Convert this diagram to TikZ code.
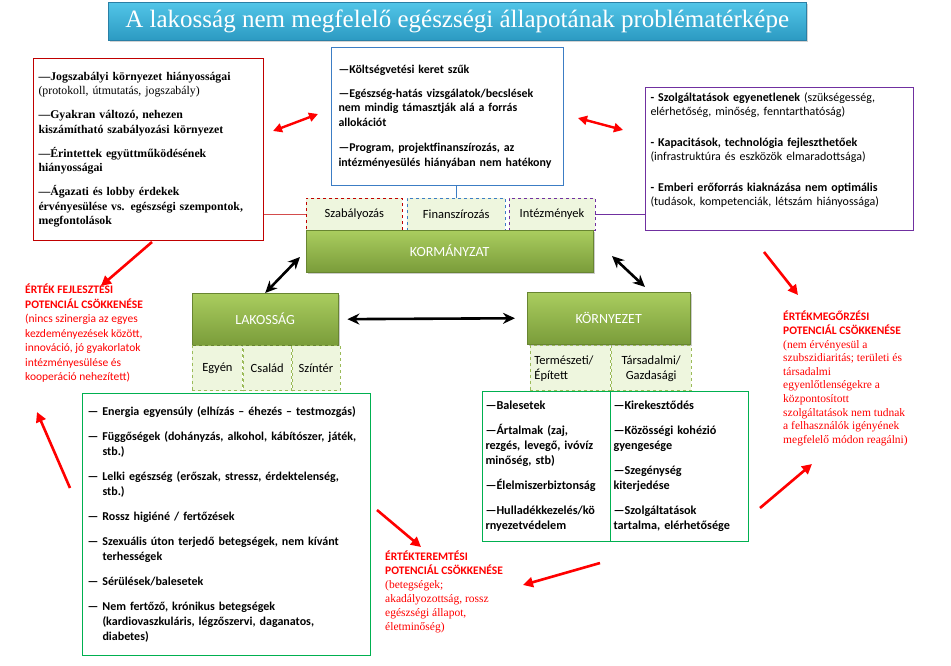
\documentclass[tikz,border=0pt]{standalone}
\usepackage{fontspec}
\setmainfont{Liberation Serif}
\newfontfamily\fntCal{Carlito}
\usepackage{xcolor}
\definecolor{cRuleRed}{HTML}{C00000}
\definecolor{cArrowRed}{HTML}{FF0000}
\definecolor{cFundBlue}{HTML}{3C7DC4}
\definecolor{cServPurple}{HTML}{7030A0}
\definecolor{cListGreen}{HTML}{00B050}
\definecolor{cLeafTop}{HTML}{AACD5F}
\definecolor{cLeafBot}{HTML}{7A9C3A}
\definecolor{cLeafPale}{HTML}{EEF6DE}
\definecolor{cLeafDash}{HTML}{9BBB59}
\definecolor{cSkyTop}{HTML}{52C5E8}
\definecolor{cSkyBot}{HTML}{2C9AC2}
\definecolor{cSkyEdge}{HTML}{2A7FA5}
\usetikzlibrary{positioning,arrows.meta,shadows}
\newcommand{\listindent}{\hspace*{15pt}}
\tikzset{
  node-box/.style={line width=1pt,align=left,inner xsep=6pt,inner ysep=4pt,anchor=north west},
  node-title/.style={anchor=north west,minimum width=698pt,minimum height=38pt,
    top color=cSkyTop,bottom color=cSkyBot,draw=cSkyEdge,text=white,
    font=\fontsize{25}{28}\selectfont,
    drop shadow={shadow xshift=2pt,shadow yshift=-2pt,opacity=0.35}},
  node-leaf/.style={anchor=north west,top color=cLeafTop,bottom color=cLeafBot,
    draw=cLeafBot!85!black,text=white,font=\fntCal\fontsize{14}{16}\selectfont,
    drop shadow={shadow xshift=1.5pt,shadow yshift=-2pt,opacity=0.4}},
  node-tab/.style={fill=cLeafPale,dashed,line width=0.8pt,draw=cLeafDash,
    align=center,inner sep=1pt,font=\fntCal\fontsize{12.5}{15}\selectfont},
  % jegyzetek (piros szöveg)
  note-red/.style={text=cArrowRed,anchor=north west,inner sep=0pt,align=left},
  line-link/.style={line width=0.8pt},
  arrow-red/.style={-{Triangle[length=10pt,width=10pt]},line width=2.6pt,draw=cArrowRed},
  arrow-red-dual/.style={{Triangle[length=9pt,width=9pt]}-{Triangle[length=9pt,width=9pt]},
    line width=2.4pt,draw=cArrowRed},
  arrow-dual/.style={{Stealth[length=12pt,width=11pt]}-{Stealth[length=12pt,width=11pt]},
    line width=2.6pt,draw=black},
}

\begin{document}
\begin{tikzpicture}[x=1pt,y=-1pt]
  \useasboundingbox (0,0) rectangle (951,666);
  \node[node-title] (title) at (108,2) {A lakosság nem megfelelő egészségi állapotának problématérképe};

  % felső dobozok
  \node[node-box,draw=cRuleRed,minimum width=230pt,minimum height=182pt,text width=220pt,
    inner xsep=5pt,font=\bfseries\fontsize{11.8}{14.5}\selectfont] (rule-list) at (33,58)
    {\textemdash Jogszabályi környezet hiányosságai\\
     {\mdseries (protokoll, útmutatás, jogszabály)}\\[9.5pt]
     \textemdash Gyakran változó, nehezen\\
     kiszámítható szabályozási környezet\\[9.5pt]
     \textemdash Érintettek együttműködésének\\
     hiányosságai\\[9.5pt]
     \textemdash Ágazati és lobby érdekek\\
     érvényesülése vs. egészségi szempontok,\\
     megfontolások};
  \node[node-box,draw=cFundBlue,minimum width=232pt,minimum height=138pt,text width=218pt,
    inner xsep=7pt,font=\fntCal\bfseries\fontsize{11.9}{14.5}\selectfont] (fund-list) at (331,47)
    {\textemdash Költségvetési keret szűk\\[9.5pt]
     \textemdash Egészség-hatás vizsgálatok/becslések\\
     nem mindig támasztják alá a forrás\\
     allokációt\\[11pt]
     \textemdash Program, projektfinanszírozás, az\\
     intézményesülés hiányában nem hatékony};
  \node[node-box,draw=cServPurple,minimum width=268pt,minimum height=143pt,text width=258pt,
    inner xsep=5pt,font=\fntCal\fontsize{12}{13.5}\selectfont] (serv-list) at (645,87)
    {\textbf{- Szolgáltatások egyenetlenek} (szükségesség,\\
     elérhetőség, minőség, fenntarthatóság)\\[18pt]
     \textbf{- Kapacitások, technológia fejleszthetőek}\\
     (infrastruktúra és eszközök elmaradottsága)\\[18pt]
     \textbf{- Emberi erőforrás kiaknázása nem optimális}\\
     (tudások, kompetenciák, létszám hiányossága)\\[6pt]\mbox{}};

  % KORMÁNYZAT
  \node[node-tab,draw=cRuleRed,minimum width=96pt,minimum height=32pt,anchor=north west] (szab) at (306,198) {Szabályozás};
  \node[node-tab,draw=cFundBlue,minimum width=98pt,minimum height=32pt,right=4pt of szab] (fin) {Finanszírozás};
  \node[node-tab,draw=cServPurple,minimum width=86pt,minimum height=32pt,right=3pt of fin] (inst) {Intézmények};
  \node[node-leaf,minimum width=287pt,minimum height=42pt] (gov) at (306,230) {KORMÁNYZAT};

  \draw[line-link,draw=cRuleRed!70] (szab.west) -- (rule-list.east |- szab.west);
  \draw[line-link,draw=cFundBlue] (fin.north) -- (fin.north |- fund-list.south);
  \draw[line-link,draw=cServPurple] (inst.east) -- (inst.east -| serv-list.west);

  % LAKOSSÁG
  \node[node-leaf,minimum width=146pt,minimum height=52pt] (lak) at (192,293) {LAKOSSÁG};
  \node[node-tab,minimum width=50pt,minimum height=45pt,below right=0pt and 0pt of lak.south west] (egyen) {Egyén};
  \node[node-tab,minimum width=48pt,minimum height=45pt,right=0pt of egyen] (csalad) {Család};
  \node[node-tab,minimum width=48pt,minimum height=45pt,right=0pt of csalad] (szinter) {Színtér};

  % KÖRNYEZET
  \node[node-leaf,minimum width=163pt,minimum height=52pt] (env) at (527,292) {KÖRNYEZET};
  \node[node-tab,minimum width=80pt,minimum height=45pt,text width=72pt,inner xsep=4pt,align=left,
    below right=1pt and 3pt of env.south west] (env-nat) {Természeti/\\Épített};
  \node[node-tab,minimum width=80pt,minimum height=45pt,right=0pt of env-nat] (env-soc) {Társadalmi/\\Gazdasági};

  % alsó listák
  \node[node-box,draw=cListGreen,minimum width=288pt,minimum height=262pt,text width=278pt,
    inner xsep=5pt,font=\fntCal\bfseries\fontsize{12}{15}\selectfont] (pop-list) at (82,393)
    {\textemdash\ Energia egyensúly (elhízás – éhezés – testmozgás)\\[10pt]
     \textemdash\ Függőségek (dohányzás, alkohol, kábítószer, játék,\\
     \listindent stb.)\\[10pt]
     \textemdash\ Lelki egészség (erőszak, stressz, érdektelenség,\\
     \listindent stb.)\\[10pt]
     \textemdash\ Rossz higiéné / fertőzések\\[10pt]
     \textemdash\ Szexuális úton terjedő betegségek, nem kívánt\\
     \listindent terhességek\\[10pt]
     \textemdash\ Sérülések/balesetek\\[10pt]
     \textemdash\ Nem fertőző, krónikus betegségek\\
     \listindent (kardiovaszkuláris, légzőszervi, daganatos,\\
     \listindent diabetes)};
  \node[node-box,draw=cListGreen,minimum width=128pt,minimum height=150pt,text width=122pt,
    inner xsep=3pt,font=\fntCal\bfseries\fontsize{12.2}{15}\selectfont] (env-nat-list) at (482,391)
    {\textemdash Balesetek\\[10pt]
     \textemdash Ártalmak (zaj,\\
     rezgés, levegő, ivóvíz\\
     minőség, stb)\\[10pt]
     \textemdash Élelmiszerbiztonság\\[10pt]
     \textemdash Hulladékkezelés/kö\\
     rnyezetvédelem};
  \node[node-box,draw=cListGreen,minimum width=138pt,minimum height=150pt,text width=132pt,
    inner xsep=3pt,font=\fntCal\bfseries\fontsize{12.2}{15}\selectfont] (env-soc-list) at (610,391)
    {\textemdash Kirekesztődés\\[10pt]
     \textemdash Közösségi kohézió\\
     gyengesége\\[10pt]
     \textemdash Szegénység\\
     kiterjedése\\[10pt]
     \textemdash Szolgáltatások\\
     tartalma, elérhetősége};

  % piros jegyzetek
  \node[note-red,font=\fntCal\fontsize{11.5}{14.5}\selectfont] (note-dev) at (25,284)
    {\textbf{ÉRTÉK FEJLESZTÉSI}\\\textbf{POTENCIÁL CSÖKKENÉSE}\\(nincs szinergia az egyes\\
     kezdeményezések között,\\innováció, jó gyakorlatok\\intézményesülése és\\kooperáció nehezített)};
  \node[note-red,font=\fontsize{11.5}{13.6}\selectfont] (note-keep) at (783,311)
    {{\fntCal\bfseries ÉRTÉKMEGŐRZÉSI}\\{\fntCal\bfseries POTENCIÁL CSÖKKENÉSE}\\(nem érvényesül a\\
     szubszidiaritás; területi és\\társadalmi\\egyenlőtlenségekre a\\központosított\\
     szolgáltatások nem tudnak\\a felhasználók igényének\\megfelelő módon reagálni)};
  \node[note-red,font=\fontsize{11.5}{14}\selectfont] (note-create) at (385,551)
    {{\fntCal\bfseries ÉRTÉKTEREMTÉSI}\\{\fntCal\bfseries POTENCIÁL CSÖKKENÉSE}\\(betegségek;\\
     akadályozottság, rossz\\egészségi állapot,\\életminőség)};

  % nyilak
  \coordinate (rd-a) at (273,131);  \coordinate (rd-b) at (318,114);
  \coordinate (rs-a) at (578,118);  \coordinate (rs-b) at (623,130);
  \coordinate (gl-a) at (300,257);  \coordinate (ge-a) at (612,256);
  \coordinate (ge-b) at (645,287);
  \coordinate (dev-a) at (152,242); \coordinate (dev-b) at (101,286);
  \coordinate (up-a) at (70,488);   \coordinate (up-b) at (37,412);
  \coordinate (cre-a) at (377,510); \coordinate (cre-b) at (421,547);
  \coordinate (cr2-a) at (600,563); \coordinate (cr2-b) at (523,585);
  \coordinate (kp-a) at (760,508);  \coordinate (kp-b) at (812,464);
  \coordinate (kp2-a) at (764,252); \coordinate (kp2-b) at (798,295);

  \draw[arrow-red-dual] (rd-a) -- (rd-b);
  \draw[arrow-red-dual] (rs-a) -- (rs-b);
  \draw[arrow-dual] (gl-a) -- (lak.north);
  \draw[arrow-dual] (ge-a) -- (ge-b);
  \draw[arrow-dual,shorten <=9pt,shorten >=12pt] (lak.east) -- (env.west);
  \draw[arrow-red] (dev-a) -- (dev-b);
  \draw[arrow-red] (up-a) -- (up-b);
  \draw[arrow-red] (cre-a) -- (cre-b);
  \draw[arrow-red] (cr2-a) -- (cr2-b);
  \draw[arrow-red] (kp-a) -- (kp-b);
  \draw[arrow-red] (kp2-a) -- (kp2-b);
\end{tikzpicture}
\end{document}
